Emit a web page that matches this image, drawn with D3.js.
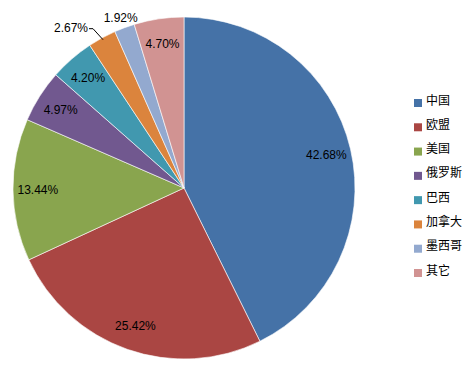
<!DOCTYPE html>
<html><head><meta charset="utf-8">
<script src="https://cdn.jsdelivr.net/npm/d3@7/dist/d3.min.js"></script>
<style>body{margin:0;background:#fff}svg{display:block}</style>
</head><body>
<script>
const categories = ["中国","欧盟","美国","俄罗斯","巴西","加拿大","墨西哥","其它"];
const values = [42.68, 25.42, 13.44, 4.97, 4.20, 2.67, 1.92, 4.70];
const colors = ["#4572A7","#AA4643","#89A54E","#71588F","#4198AF","#DB843D","#93A9CF","#D19392"];

const W = 474, H = 366;
const cx = 184, cy = 188, R = 171;
const svg = d3.select("body").append("svg").attr("width", W).attr("height", H);

const pie = d3.pie().sort(null).value(d => d);
const arcs = pie(values);
const arc = d3.arc().innerRadius(0).outerRadius(R);
const g = svg.append("g").attr("transform", `translate(${cx},${cy})`);
const color = d3.scaleOrdinal().domain(categories).range(colors);

g.selectAll("path").data(arcs).enter().append("path")
  .attr("d", arc)
  .attr("fill", (d, i) => color(categories[i]))
  .attr("stroke", "#fff").attr("stroke-width", 0.6);

const font = "'Liberation Sans', Arial, sans-serif";
arcs.forEach((d, i) => {
  const mid = (d.startAngle + d.endAngle) / 2;
  let rho = 0.855 * R;
  const txt = values[i].toFixed(2) + "%";
  if (values[i] < 2) { rho = R + 11; }
  if (values[i] > 2.5 && values[i] < 3) {
    // outside label with leader line
    const ex = (R - 2) * Math.sin(mid), ey = -(R - 2) * Math.cos(mid);
    const lx = ex - 10, ly = ey - 11;
    g.append("polyline")
      .attr("points", `${ex},${ey} ${lx},${ly} ${lx-4},${ly}`)
      .attr("fill", "none").attr("stroke", "#000").attr("stroke-width", 1);
    g.append("text").attr("x", lx - 5).attr("y", ly - 1).attr("dy", "0.35em")
      .attr("text-anchor", "end").attr("font-family", font).attr("font-size", 12)
      .attr("fill", "#000").text(txt);
    return;
  }
  const x = rho * Math.sin(mid), y = -rho * Math.cos(mid);
  g.append("text").attr("x", x).attr("y", y).attr("dy", "0.35em")
    .attr("text-anchor", "middle").attr("font-family", font).attr("font-size", 12)
    .attr("fill", "#000").text(txt);
});

const ly = d3.scalePoint().domain(categories).range([100, 270]);
const leg = svg.append("g");
categories.forEach(c => {
  leg.append("rect").attr("x", 414).attr("y", ly(c) - 1).attr("width", 8).attr("height", 8)
    .attr("fill", color(c));
  leg.append("text").attr("x", 426).attr("y", ly(c)).attr("dy", "0.38em")
    .attr("font-family", "'Noto Sans CJK SC', sans-serif").attr("font-size", 12)
    .attr("fill", "#000").text(c);
});
</script>
</body></html>
